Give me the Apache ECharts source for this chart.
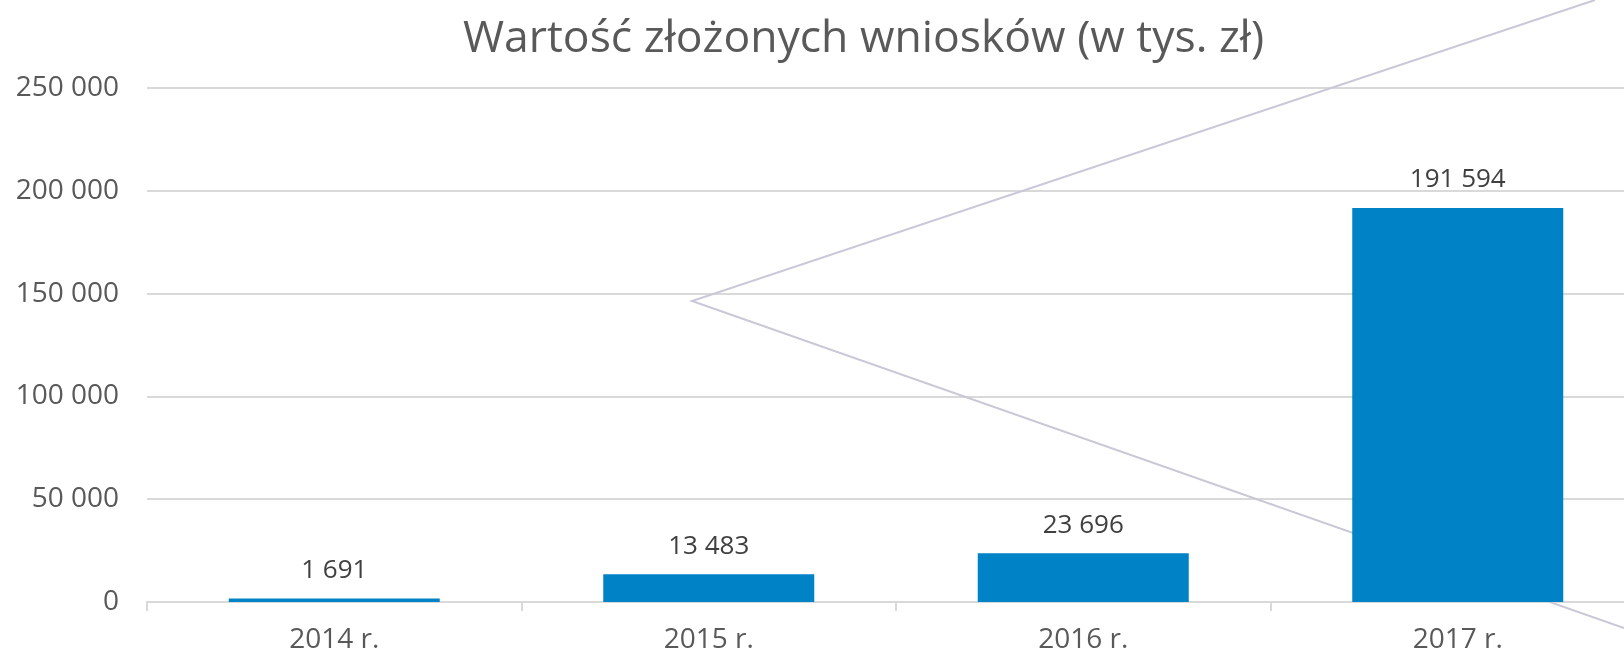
<!DOCTYPE html>
<html>
<head>
<meta charset="utf-8">
<script src="https://cdn.jsdelivr.net/npm/echarts@6/dist/echarts.min.js"></script>
<style>
  html, body { margin: 0; padding: 0; background: #fff; }
  #chart { width: 1624px; height: 656px; }
</style>
</head>
<body>
<div id="chart"></div>
<script>
const categories = ['2014 r.', '2015 r.', '2016 r.', '2017 r.'];
const values = [1691, 13483, 23696, 191594];
const yTicks = [0, 50000, 100000, 150000, 200000, 250000];

const fmt = (v) => String(v).replace(/\B(?=(\d{3})+(?!\d))/g, ' ');
const font = '"Open Sans", "Noto Sans", sans-serif';
const grey = '#595959';

const chart = echarts.init(document.getElementById('chart'));
chart.setOption({
    animation: false,
    title: {
        text: 'Wartość złożonych wniosków (w tys. zł)',
        left: 458,
        top: 12,
        textStyle: { fontFamily: font, fontSize: 44.5, fontWeight: 'normal', color: grey }
    },
    grid: { left: 147, top: 88, width: 1498, height: 514, outerBoundsMode: 'none', containLabel: false },
    // decorative chevron from the original graphic
    graphic: [{
        type: 'polyline',
        z: 1,
        silent: true,
        shape: { points: [[1595, 0], [692, 301], [1624, 628]] },
        style: { stroke: '#c9c8d6', lineWidth: 2, fill: null }
    }],
    xAxis: {
        type: 'category',
        data: categories,
        axisLine: { lineStyle: { color: '#d9d9d9', width: 2 } },
        axisTick: { show: true, length: 9, lineStyle: { color: '#d9d9d9', width: 2 } },
        axisLabel: { fontFamily: font, fontSize: 28, color: grey, margin: 24 }
    },
    yAxis: {
        type: 'value',
        min: yTicks[0],
        max: yTicks[yTicks.length - 1],
        interval: 50000,
        axisLine: { show: false },
        axisTick: { show: false },
        splitLine: { lineStyle: { color: '#d9d9d9', width: 2 } },
        axisLabel: {
            fontFamily: font, fontSize: 28, color: grey, margin: 28,
            formatter: (v) => fmt(v)
        }
    },
    series: [{
        type: 'bar',
        data: values,
        barWidth: 211,
        z: 3,
        itemStyle: { color: '#0083c6' },
        label: {
            show: true,
            position: 'top',
            distance: 15,
            fontFamily: font,
            fontSize: 26,
            color: '#404040',
            formatter: (p) => fmt(p.value)
        }
    }]
});
</script>
</body>
</html>
